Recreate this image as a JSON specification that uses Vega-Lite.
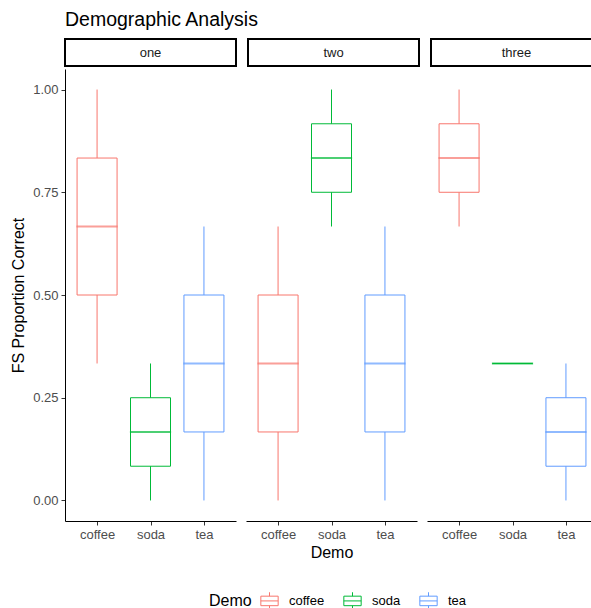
{
  "$schema": "https://vega.github.io/schema/vega-lite/v6.json",
  "padding": {"left": 10, "top": 9, "right": 0, "bottom": 0},
  "title": {"text": "Demographic Analysis", "anchor": "start", "frame": "group", "fontSize": 19.5, "font": "Liberation Sans", "fontWeight": "normal", "color": "black", "offset": 8},
  "datasets": {
    "strips": [{"panel": "one"}, {"panel": "two"}, {"panel": "three"}],
    "boxes": [
      {"panel": "one", "drink": "coffee", "ymin": 0.3333, "lower": 0.5, "middle": 0.6667, "upper": 0.8333, "ymax": 1},
      {"panel": "one", "drink": "soda", "ymin": 0, "lower": 0.0833, "middle": 0.1667, "upper": 0.25, "ymax": 0.3333},
      {"panel": "one", "drink": "tea", "ymin": 0, "lower": 0.1667, "middle": 0.3333, "upper": 0.5, "ymax": 0.6667},
      {"panel": "two", "drink": "coffee", "ymin": 0, "lower": 0.1667, "middle": 0.3333, "upper": 0.5, "ymax": 0.6667},
      {"panel": "two", "drink": "soda", "ymin": 0.6667, "lower": 0.75, "middle": 0.8333, "upper": 0.9167, "ymax": 1},
      {"panel": "two", "drink": "tea", "ymin": 0, "lower": 0.1667, "middle": 0.3333, "upper": 0.5, "ymax": 0.6667},
      {"panel": "three", "drink": "coffee", "ymin": 0.6667, "lower": 0.75, "middle": 0.8333, "upper": 0.9167, "ymax": 1},
      {"panel": "three", "drink": "soda", "ymin": 0.3333, "lower": 0.3333, "middle": 0.3333, "upper": 0.3333, "ymax": 0.3333},
      {"panel": "three", "drink": "tea", "ymin": 0, "lower": 0.0833, "middle": 0.1667, "upper": 0.25, "ymax": 0.3333}
    ]
  },
  "spacing": 30,
  "bounds": "flush",
  "vconcat": [
    {
      "data": {"name": "strips"},
      "facet": {"column": {"field": "panel", "sort": ["one", "two", "three"], "header": null}},
      "spacing": 10,
      "spec": {
        "width": 171,
        "height": 27,
        "view": {"stroke": "black", "strokeWidth": 2, "fill": "white"},
        "mark": {"type": "text", "fontSize": 13, "font": "Liberation Sans", "color": "#1A1A1A"},
        "encoding": {"text": {"field": "panel"}}
      }
    },
    {
      "data": {"name": "boxes"},
      "facet": {"column": {"field": "panel", "sort": ["one", "two", "three"], "header": {"title": "Demo", "titleOrient": "bottom", "labels": false, "titleFontSize": 16, "titleFont": "Liberation Sans", "titleFontWeight": "normal", "titleColor": "black", "titlePadding": -6}}},
      "spacing": 10,
      "spec": {
        "width": 171,
        "height": 452,
        "encoding": {
          "x": {"field": "drink", "type": "nominal", "scale": {"type": "point", "padding": 0.6}, "axis": {"title": null, "labelAngle": 0}},
          "stroke": {
            "field": "drink", "type": "nominal",
            "scale": {"domain": ["coffee", "soda", "tea"], "range": ["#F8766D", "#00BA38", "#619CFF"]},
            "legend": {
              "title": "Demo", "orient": "none", "legendX": 144, "legendY": 552, "direction": "horizontal", "titleOrient": "left",
              "titleFontSize": 16, "titleFont": "Liberation Sans", "titleFontWeight": "normal", "titleColor": "black", "titlePadding": 8,
              "labelFontSize": 13, "labelFont": "Liberation Sans", "labelColor": "black",
              "symbolType": "M-1,-0.55H1V0.55H-1Z M-1,0H1 M0,-1V-0.55 M0,0.55V1",
              "symbolSize": 300, "symbolStrokeWidth": 1, "symbolFillColor": "white",
              "columnPadding": 16, "labelOffset": 10
            }
          }
        },
        "layer": [
          {"mark": {"type": "rule", "strokeWidth": 1}, "encoding": {"y": {"field": "ymin", "type": "quantitative", "scale": {"domain": [-0.05, 1.05], "nice": false, "zero": false}, "axis": {"title": "FS Proportion Correct", "values": [0, 0.25, 0.5, 0.75, 1], "format": ".2f", "titlePadding": 6}}, "y2": {"field": "lower"}}},
          {"mark": {"type": "rule", "strokeWidth": 1}, "encoding": {"y": {"field": "upper", "type": "quantitative"}, "y2": {"field": "ymax"}}},
          {"mark": {"type": "bar", "filled": false, "size": 40, "strokeWidth": 1}, "encoding": {"y": {"field": "lower", "type": "quantitative"}, "y2": {"field": "upper"}}},
          {"mark": {"type": "tick", "filled": false, "size": 40, "thickness": 0.8, "strokeWidth": 1.2}, "encoding": {"y": {"field": "middle", "type": "quantitative"}}}
        ]
      }
    }
  ],
  "config": {
    "view": {"stroke": null},
    "font": "Liberation Sans",
    "axis": {
      "grid": false, "domainColor": "black", "domainWidth": 1, "tickColor": "#333333", "tickSize": 4, "labelPadding": 3,
      "labelFont": "Liberation Sans", "labelFontSize": 13, "labelColor": "#4D4D4D",
      "titleFont": "Liberation Sans", "titleFontSize": 16, "titleFontWeight": "normal", "titleColor": "black"
    }
  }
}
